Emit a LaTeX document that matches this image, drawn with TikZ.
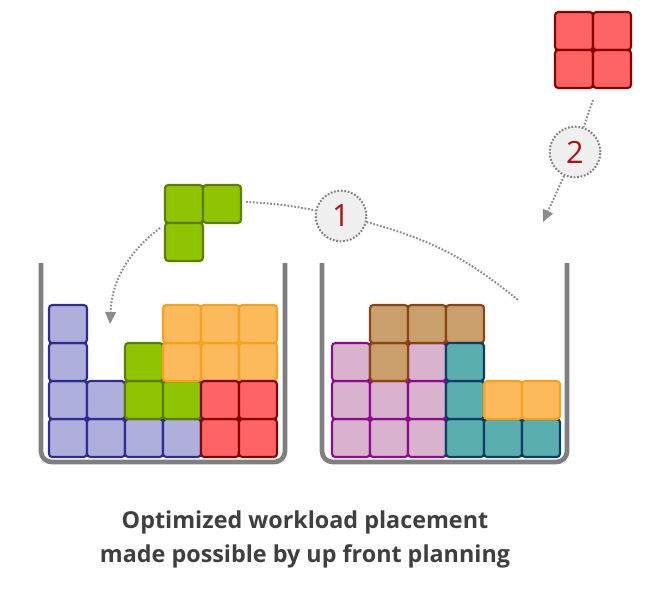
\documentclass[tikz,border=0pt]{standalone}
\usepackage{fontspec}
\setmainfont{Open Sans}
\usetikzlibrary{arrows.meta}
\definecolor{bF}{HTML}{AEB0DB}\definecolor{bD}{HTML}{2E2C94}
\definecolor{gF}{HTML}{8EC400}\definecolor{gD}{HTML}{5E7D00}
\definecolor{oF}{HTML}{FDBA5C}\definecolor{oD}{HTML}{F7A21E}
\definecolor{rF}{HTML}{FF6464}\definecolor{rD}{HTML}{860000}
\definecolor{pF}{HTML}{D9B2CD}\definecolor{pD}{HTML}{8E0A8E}
\definecolor{nF}{HTML}{C9A06C}\definecolor{nD}{HTML}{8A4510}
\definecolor{tF}{HTML}{5BAEAE}\definecolor{tD}{HTML}{0C3D68}
\definecolor{wall}{HTML}{7F7F7F}
\definecolor{txt}{HTML}{3F3F3F}
\definecolor{num}{HTML}{B01218}
\tikzset{
 blk/.style={line width=1.6pt,rounded corners=2.5pt},
 bb/.style={blk,fill=bF,draw=bD}, gb/.style={blk,fill=gF,draw=gD},
 ob/.style={blk,fill=oF,draw=oD}, rb/.style={blk,fill=rF,draw=rD},
 pb/.style={blk,fill=pF,draw=pD}, nb/.style={blk,fill=nF,draw=nD},
 tb/.style={blk,fill=tF,draw=tD},
 wallline/.style={draw=wall,line width=3.5pt,rounded corners=8pt},
 dotted arrow/.style={draw=wall!90,line width=1.5pt,dash pattern=on 1.3pt off 1.3pt},
 numcirc/.style={circle,minimum size=38pt,fill=gray!12,draw=wall,line width=1.5pt,dash pattern=on 1.3pt off 1.3pt,text=num,font=\fontsize{23}{25}\selectfont},
}
\newcommand{\cellL}[3]{\draw[#3] ({49+38*#1},{419-38*#2}) rectangle ++(38,38);}
\newcommand{\cellR}[3]{\draw[#3] ({332+38*#1},{419-38*#2}) rectangle ++(38,38);}
\begin{document}
\begin{tikzpicture}[x=0.75pt,y=-0.75pt]
\useasboundingbox (0,0) rectangle (652,593);
% bins
\draw[wallline] (41,263) -- (41,462) -- (285,462) -- (285,263);
\draw[wallline] (322,263) -- (322,462) -- (567,462) -- (567,263);
% left bin
\foreach \c/\r in {0/0,0/1,0/2,0/3,1/0,1/1,2/0,3/0} {\cellL{\c}{\r}{bb}}
\foreach \c/\r in {2/1,2/2,3/1} {\cellL{\c}{\r}{gb}}
\foreach \c/\r in {3/2,3/3,4/2,4/3,5/2,5/3} {\cellL{\c}{\r}{ob}}
\foreach \c/\r in {4/0,4/1,5/0,5/1} {\cellL{\c}{\r}{rb}}
% right bin
\foreach \c/\r in {0/0,0/1,0/2,1/0,1/1,2/0,2/1,2/2} {\cellR{\c}{\r}{pb}}
\foreach \c/\r in {1/2,1/3,2/3,3/3} {\cellR{\c}{\r}{nb}}
\foreach \c/\r in {3/0,3/1,3/2,4/0,5/0} {\cellR{\c}{\r}{tb}}
\foreach \c/\r in {4/1,5/1} {\cellR{\c}{\r}{ob}}
% floating pieces
\draw[gb] (165,185) rectangle ++(38,38);
\draw[gb] (203,185) rectangle ++(38,38);
\draw[gb] (165,223) rectangle ++(38,38);
\coordinate (gR) at (246,202);
\coordinate (gL) at (160,228);
\foreach \c/\r in {0/0,1/0,0/1,1/1} {\draw[rb] ({555+38*\c},{12+38*\r}) rectangle ++(38,38);}
\coordinate (rB) at (593,100);
% circles
\node[numcirc] (c1) at (341,216) {1};
\node[numcirc] (c2) at (575,152) {2};
\coordinate (e1) at (518,300);
\coordinate (e2) at (543,222);
\coordinate (e3) at (110,324);
\draw[dotted arrow] (gR) to[bend left=4] (c1);
\draw[dotted arrow] (c1) to[bend left=12] (e1);
\draw[dotted arrow] (rB) -- (c2);
\draw[dotted arrow,-{Triangle[length=9pt,width=8pt]}] (c2) -- (e2);
\draw[dotted arrow,-{Triangle[length=9pt,width=8pt]}] (gL) to[bend right=25] (e3);
% caption
\node[text=txt,font=\bfseries\fontsize{17.5}{25.5}\selectfont,align=center] (cap) at (305,539)
 {Optimized workload placement\\made possible by up front planning};
\end{tikzpicture}
\end{document}
